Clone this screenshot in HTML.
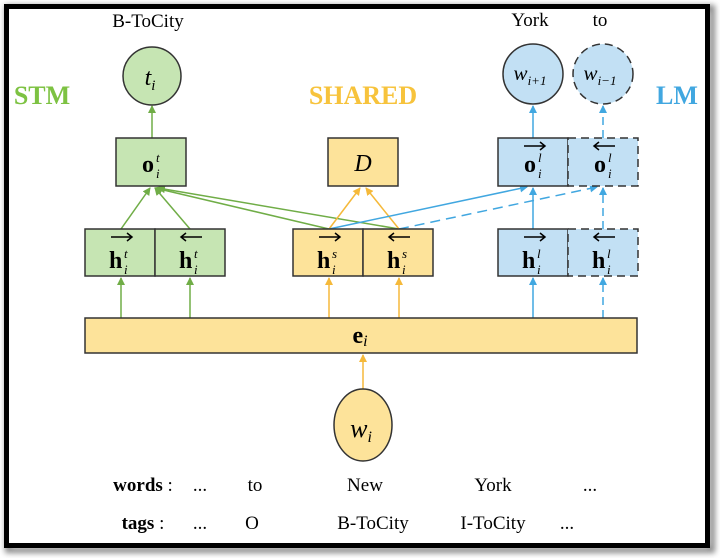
<!DOCTYPE html>
<html><head><meta charset="utf-8"><style>
html,body{margin:0;padding:0;background:#fff;}
svg{display:block;}
text{font-family:"Liberation Serif",serif;}
</style></head><body>
<svg width="720" height="558" viewBox="0 0 720 558" xmlns="http://www.w3.org/2000/svg">
<defs>
<filter id="sh" x="-5%" y="-5%" width="110%" height="110%"><feGaussianBlur stdDeviation="3"/></filter>
<marker id="ag" markerWidth="8" markerHeight="8" refX="7" refY="4" orient="auto" markerUnits="userSpaceOnUse"><path d="M0,0 L8,4 L0,8z" fill="#70ad47"/></marker>
<marker id="ay" markerWidth="8" markerHeight="8" refX="7" refY="4" orient="auto" markerUnits="userSpaceOnUse"><path d="M0,0 L8,4 L0,8z" fill="#f5b93a"/></marker>
<marker id="ab" markerWidth="8" markerHeight="8" refX="7" refY="4" orient="auto" markerUnits="userSpaceOnUse"><path d="M0,0 L8,4 L0,8z" fill="#41a7e0"/></marker>
</defs>
<rect x="8" y="8" width="704" height="542" fill="none" stroke="#888" stroke-width="6" filter="url(#sh)"/>
<rect x="6.5" y="6.5" width="701" height="539" fill="#fff" stroke="#000" stroke-width="5"/>

<!-- labels -->
<text x="148" y="27" font-size="19" text-anchor="middle">B-ToCity</text>
<text x="530" y="26" font-size="19" text-anchor="middle">York</text>
<text x="600" y="26" font-size="19" text-anchor="middle">to</text>
<text x="42" y="104" font-size="26" font-weight="bold" fill="#7dc242" text-anchor="middle">STM</text>
<text x="363" y="104" font-size="26" font-weight="bold" fill="#f7c33c" text-anchor="middle">SHARED</text>
<text x="677" y="104" font-size="26" font-weight="bold" fill="#41a7e0" text-anchor="middle">LM</text>

<!-- connectors -->
<g stroke-width="1.5" fill="none">
<line x1="152" y1="138" x2="152" y2="106" stroke="#70ad47" marker-end="url(#ag)"/>
<line x1="121" y1="229" x2="150" y2="188" stroke="#70ad47" marker-end="url(#ag)"/>
<line x1="190" y1="229" x2="155" y2="188" stroke="#70ad47" marker-end="url(#ag)"/>
<line x1="329" y1="229" x2="155" y2="188" stroke="#70ad47" marker-end="url(#ag)"/>
<line x1="399" y1="229" x2="158" y2="188" stroke="#70ad47" marker-end="url(#ag)"/>
<line x1="329" y1="229" x2="360" y2="188" stroke="#f5b93a" marker-end="url(#ay)"/>
<line x1="399" y1="229" x2="366" y2="188" stroke="#f5b93a" marker-end="url(#ay)"/>
<line x1="329" y1="229" x2="527" y2="187" stroke="#41a7e0" marker-end="url(#ab)"/>
<line x1="399" y1="229" x2="597" y2="187" stroke="#41a7e0" stroke-dasharray="10,6" marker-end="url(#ab)"/>
<line x1="533" y1="229" x2="533" y2="188" stroke="#41a7e0" marker-end="url(#ab)"/>
<line x1="603" y1="229" x2="603" y2="188" stroke="#41a7e0" stroke-dasharray="8,5" marker-end="url(#ab)"/>
<line x1="533" y1="138" x2="533" y2="106" stroke="#41a7e0" marker-end="url(#ab)"/>
<line x1="603" y1="138" x2="603" y2="106" stroke="#41a7e0" stroke-dasharray="8,5" marker-end="url(#ab)"/>
<line x1="121" y1="318" x2="121" y2="278" stroke="#70ad47" marker-end="url(#ag)"/>
<line x1="190" y1="318" x2="190" y2="278" stroke="#70ad47" marker-end="url(#ag)"/>
<line x1="329" y1="318" x2="329" y2="278" stroke="#f5b93a" marker-end="url(#ay)"/>
<line x1="399" y1="318" x2="399" y2="278" stroke="#f5b93a" marker-end="url(#ay)"/>
<line x1="533" y1="318" x2="533" y2="278" stroke="#41a7e0" marker-end="url(#ab)"/>
<line x1="603" y1="318" x2="603" y2="278" stroke="#41a7e0" stroke-dasharray="8,5" marker-end="url(#ab)"/>
<line x1="363" y1="389" x2="363" y2="355" stroke="#f5b93a" marker-end="url(#ay)"/>
</g>

<!-- nodes -->
<g stroke="#333" stroke-width="1.5">
<circle cx="152" cy="76" r="29" fill="#c6e5b3"/>
<circle cx="533" cy="74" r="30" fill="#c2e0f4"/>
<circle cx="603" cy="74" r="30" fill="#c2e0f4" stroke-dasharray="8,5"/>
<rect x="116" y="138" width="70" height="48" fill="#c6e5b3"/>
<rect x="328" y="138" width="70" height="48" fill="#fde39a"/>
<rect x="498" y="138" width="70" height="48" fill="#c2e0f4"/>
<rect x="568" y="138" width="70" height="48" fill="#c2e0f4" stroke-dasharray="8,5"/>
<rect x="85" y="229" width="70" height="47" fill="#c6e5b3"/>
<rect x="155" y="229" width="70" height="47" fill="#c6e5b3"/>
<rect x="293" y="229" width="70" height="47" fill="#fde39a"/>
<rect x="363" y="229" width="70" height="47" fill="#fde39a"/>
<rect x="498" y="229" width="70" height="47" fill="#c2e0f4"/>
<rect x="568" y="229" width="70" height="47" fill="#c2e0f4" stroke-dasharray="8,5"/>
<rect x="85" y="318" width="552" height="35" fill="#fde39a"/>
<ellipse cx="363" cy="425" rx="29" ry="36" fill="#fde39a"/>
</g>

<!-- node text -->
<g font-size="24" text-anchor="middle">
<text x="150" y="85" font-style="italic">t<tspan font-size="15" dy="5">i</tspan></text>
<text x="530" y="80" font-style="italic" font-size="21">w<tspan font-size="13" dy="5">i+1</tspan></text>
<text x="600" y="80" font-style="italic" font-size="21">w<tspan font-size="13" dy="5">i−1</tspan></text>
<text x="363" y="171" font-style="italic">D</text>
<text x="361" y="437" font-style="italic" font-size="26">w<tspan font-size="16" dy="5">i</tspan></text>
<text x="360" y="343"><tspan font-weight="bold">e</tspan><tspan font-style="italic" font-size="16" dy="3">i</tspan></text>
</g>
<g font-size="24" font-weight="bold">
<text x="142" y="172">o</text><text x="156" y="162" font-size="13" font-style="italic" font-weight="normal">t</text><text x="156" y="178" font-size="13" font-style="italic" font-weight="normal">i</text>
<text x="524" y="172">o</text><text x="538" y="162" font-size="13" font-style="italic" font-weight="normal">l</text><text x="538" y="178" font-size="13" font-style="italic" font-weight="normal">i</text>
<text x="594" y="172">o</text><text x="608" y="162" font-size="13" font-style="italic" font-weight="normal">l</text><text x="608" y="178" font-size="13" font-style="italic" font-weight="normal">i</text>
<text x="109" y="268">h</text><text x="124" y="258" font-size="13" font-style="italic" font-weight="normal">t</text><text x="124" y="274" font-size="13" font-style="italic" font-weight="normal">i</text>
<text x="179" y="268">h</text><text x="194" y="258" font-size="13" font-style="italic" font-weight="normal">t</text><text x="194" y="274" font-size="13" font-style="italic" font-weight="normal">i</text>
<text x="317" y="268">h</text><text x="332" y="258" font-size="13" font-style="italic" font-weight="normal">s</text><text x="332" y="274" font-size="13" font-style="italic" font-weight="normal">i</text>
<text x="387" y="268">h</text><text x="402" y="258" font-size="13" font-style="italic" font-weight="normal">s</text><text x="402" y="274" font-size="13" font-style="italic" font-weight="normal">i</text>
<text x="522" y="268">h</text><text x="537" y="258" font-size="13" font-style="italic" font-weight="normal">l</text><text x="537" y="274" font-size="13" font-style="italic" font-weight="normal">i</text>
<text x="592" y="268">h</text><text x="607" y="258" font-size="13" font-style="italic" font-weight="normal">l</text><text x="607" y="274" font-size="13" font-style="italic" font-weight="normal">i</text>
</g>
<!-- vector arrows -->
<g stroke="#000" stroke-width="1.5" fill="none">
<path d="M111,237 H132 M127,233 L132,237 L127,241"/>
<path d="M181,237 H202 M186,233 L181,237 L186,241"/>
<path d="M319,237 H340 M335,233 L340,237 L335,241"/>
<path d="M389,237 H410 M394,233 L389,237 L394,241"/>
<path d="M524,237 H545 M540,233 L545,237 L540,241"/>
<path d="M594,237 H615 M599,233 L594,237 L599,241"/>
<path d="M524,146 H545 M540,142 L545,146 L540,150"/>
<path d="M594,146 H615 M599,142 L594,146 L599,150"/>
</g>

<!-- bottom rows -->
<g font-size="19" text-anchor="middle">
<text x="143" y="491"><tspan font-weight="bold">words</tspan> :</text>
<text x="200" y="491">...</text>
<text x="255" y="491">to</text>
<text x="365" y="491">New</text>
<text x="493" y="491">York</text>
<text x="590" y="491">...</text>
<text x="143" y="529"><tspan font-weight="bold">tags</tspan> :</text>
<text x="200" y="529">...</text>
<text x="252" y="529">O</text>
<text x="373" y="529">B-ToCity</text>
<text x="493" y="529">I-ToCity</text>
<text x="567" y="529">...</text>
</g>
</svg>
</body></html>
